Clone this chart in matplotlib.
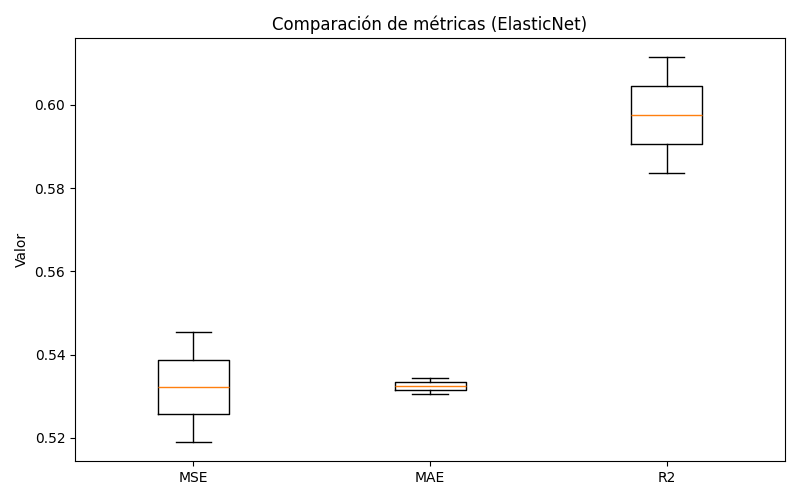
import matplotlib
matplotlib.use("Agg")
import matplotlib.pyplot as plt

# Métricas y estadísticos
metricas = ["MSE", "MAE", "R2"]
whislo = [0.5190, 0.5305, 0.5837]
q1 = [0.5257, 0.5315, 0.5907]
medianas = [0.5322, 0.5325, 0.5976]
q3 = [0.5387, 0.5334, 0.6046]
whishi = [0.5454, 0.5344, 0.6115]

stats = []
for i, m in enumerate(metricas):
    stats.append({"label": m, "whislo": whislo[i], "q1": q1[i], "med": medianas[i],
                  "q3": q3[i], "whishi": whishi[i], "fliers": []})

fig, ax = plt.subplots(figsize=(8, 5), dpi=100)
ax.bxp(stats, showfliers=False)
ax.set_title("Comparación de métricas (ElasticNet)")
ax.set_ylabel("Valor")
plt.tight_layout()
plt.savefig("out.png")
